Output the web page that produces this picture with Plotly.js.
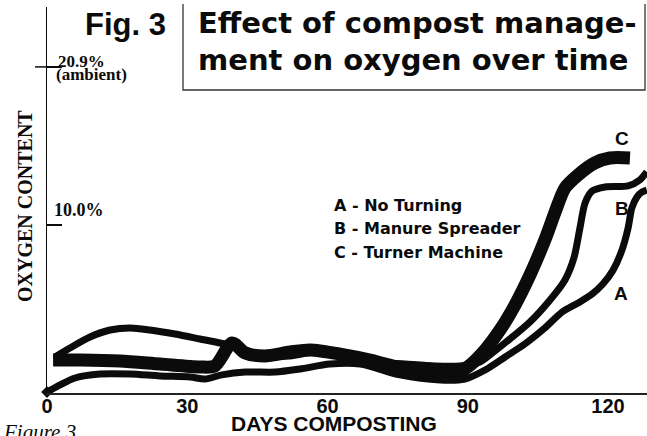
<!DOCTYPE html>
<html>
<head>
<meta charset="utf-8">
<script src="https://cdn.plot.ly/plotly-3.0.1.min.js"></script>
<style>html,body{margin:0;padding:0;background:#fff;}#chart{width:647px;height:436px;}</style>
</head>
<body>
<div id="chart"></div>
<script>
// ---- data ----
const seriesNames = ["A - No Turning", "B - Manure Spreader", "C - Turner Machine"];
const curveLetters = ["A", "B", "C"];

const daysA = [0, 2.8, 6.0, 11.3, 17.8, 24.2, 30.6, 33.8, 37.4, 42.4, 48.8, 54.1, 60.5, 67.0, 75.5, 84.1, 89.4, 93.7, 98.0, 102.2, 106.5, 110.2, 113.6, 116.6, 118.9, 121.1, 123.0, 124.3, 125.1, 126.2, 127.3, 128.3];
const oxygenA = [-1.52, -1.03, -0.55, -0.28, -0.28, -0.41, -0.48, -0.62, -0.34, -0.14, -0.14, 0.07, 0.41, 0.41, -0.34, -0.69, -0.62, 0.0, 0.90, 1.79, 2.90, 4.0, 4.62, 5.24, 5.93, 6.90, 8.28, 9.79, 11.17, 11.93, 12.28, 12.41];

const daysB = [1.7, 4.9, 9.2, 13.5, 17.8, 22.0, 27.4, 32.7, 37.0, 41.3, 45.6, 52.0, 57.3, 63.7, 70.2, 76.6, 83.0, 88.3, 92.6, 95.8, 99.0, 103.3, 107.6, 110.8, 112.7, 114.0, 115.1, 116.6, 119.4, 124.3, 126.8, 128.3];
const oxygenB = [0.90, 1.52, 2.28, 2.76, 2.90, 2.76, 2.48, 2.14, 1.86, 1.52, 1.03, 0.97, 1.24, 0.97, 0.55, 0.41, 0.28, 0.28, 0.55, 1.31, 2.14, 3.31, 4.83, 6.21, 7.72, 9.79, 11.52, 12.34, 12.62, 12.69, 13.10, 13.66];

const daysC = [1.3, 7.1, 15.6, 24.2, 32.7, 35.9, 39.6, 42.4, 46.6, 52.0, 56.3, 62.7, 69.1, 75.5, 81.9, 87.3, 90.5, 93.7, 96.9, 100.1, 103.3, 106.5, 108.7, 110.8, 113.6, 117.2, 120.4, 124.7];
const oxygenC = [0.69, 0.69, 0.62, 0.41, 0.21, 0.28, 1.86, 1.17, 0.97, 1.24, 1.38, 1.10, 0.69, 0.14, -0.28, -0.28, 0.34, 1.38, 2.76, 4.48, 6.55, 8.97, 10.9, 12.55, 13.45, 14.28, 14.62, 14.62];

const xTickVals = [0, 30, 60, 90, 120];
const xTickText = ["0", "30", "60", "90", "120"];
const yTickVals = [10, 20.9];
const yTickText = ["10.0%", "20.9%"];
const yTickNote = "(ambient)";

// ---- drawing ----
const W = 647, H = 436;
const M = {l: 47, r: 0, t: 7, b: 43};
const PW = W - M.l - M.r, PH = H - M.t - M.b;
const px = x => (x - M.l) / PW;        // page pixel -> paper x
const py = y => (H - M.b - y) / PH;    // page pixel -> paper y

const ink = '#0b0b0b';
const sans = 'Liberation Sans, Arial, sans-serif';
const wide = 'DejaVu Sans, Liberation Sans, sans-serif';
const serif = 'Liberation Serif';

const lineTrace = (x, y, w, name) => ({
  type: 'scatter', mode: 'lines', x: x, y: y, name: name,
  line: {color: ink, width: w, shape: 'spline', smoothing: 0.8},
  hoverinfo: 'skip'
});

const traces = [
  lineTrace(daysC, oxygenC, 13, seriesNames[2]),
  lineTrace(daysB, oxygenB, 7, seriesNames[1]),
  lineTrace(daysA, oxygenA, 7, seriesNames[0]),
  {type: 'scatter', mode: 'markers', x: [daysA[0]], y: [oxygenA[0]], cliponaxis: false,
   marker: {symbol: 'diamond', size: 9, color: ink}, hoverinfo: 'skip'}
];

const ann = (text, x, y, size, family, opts) => Object.assign({
  text: text, xref: 'paper', yref: 'paper', x: px(x), y: py(y),
  xanchor: 'left', yanchor: 'middle', showarrow: false,
  font: {family: family || sans, size: size, color: ink, weight: 700}
}, opts || {});

const annotations = [
  ann('Fig. 3', 83, 24, 31),
  ann('Effect of compost manage-', 196, 23, 29, wide),
  ann('ment on oxygen over time', 196, 60, 29, wide),
  ann(seriesNames[0], 332, 205, 16, wide),
  ann(seriesNames[1], 332, 228, 16, wide),
  ann(seriesNames[2], 332, 252, 16, wide),
  ann(curveLetters[2], 622, 138, 19, sans, {xanchor: 'center'}),
  ann(curveLetters[1], 622, 208, 19, sans, {xanchor: 'center'}),
  ann(curveLetters[0], 621, 293, 19, sans, {xanchor: 'center'}),
  ann('DAYS COMPOSTING', 334, 423, 21, sans, {xanchor: 'center'}),
  ann('OXYGEN CONTENT', 25, 206, 20, serif, {xanchor: 'center', textangle: -90,
      font: {family: serif, size: 20, color: ink, weight: 900}}),
  ann(yTickText[1], 56, 61, 17, serif),
  ann(yTickNote, 54, 75, 17, serif),
  ann(yTickText[0], 52, 210, 18, serif),
  ann('Figure 3', 1, 418, 21, serif, {yanchor: 'top',
      font: {family: serif, size: 21, color: ink, style: 'italic', weight: 400}})
];

const shapes = [
  {type: 'path', xref: 'paper', yref: 'paper',
   path: `M ${px(183)} ${py(4)} L ${px(183)} ${py(90)} L ${px(645)} ${py(90)} L ${px(645)} ${py(4)}`,
   line: {color: '#333', width: 1.3}},
  {type: 'line', xref: 'paper', yref: 'y', x0: px(35), x1: 0, y0: yTickVals[1], y1: yTickVals[1],
   line: {color: ink, width: 1.5}}
];

const layout = {
  width: W, height: H, margin: M,
  paper_bgcolor: '#fff', plot_bgcolor: '#fff',
  showlegend: false,
  xaxis: {range: [0, PW / 4.675], showgrid: false, zeroline: false,
          showline: true, linecolor: '#222', linewidth: 1.5,
          tickvals: xTickVals, ticktext: xTickText, ticks: '', ticklabelstandoff: -6,
          tickfont: {family: sans, size: 20, color: ink, weight: 700}},
  yaxis: {range: [-1.586, 25.03], showgrid: false, zeroline: false,
          showline: true, linecolor: ink, linewidth: 1.5,
          tickvals: yTickVals, ticks: 'inside', ticklen: 15, tickwidth: 1.5, tickcolor: ink,
          showticklabels: false},
  annotations: annotations,
  shapes: shapes
};

Plotly.newPlot('chart', traces, layout, {staticPlot: true, displayModeBar: false});
</script>
</body>
</html>
